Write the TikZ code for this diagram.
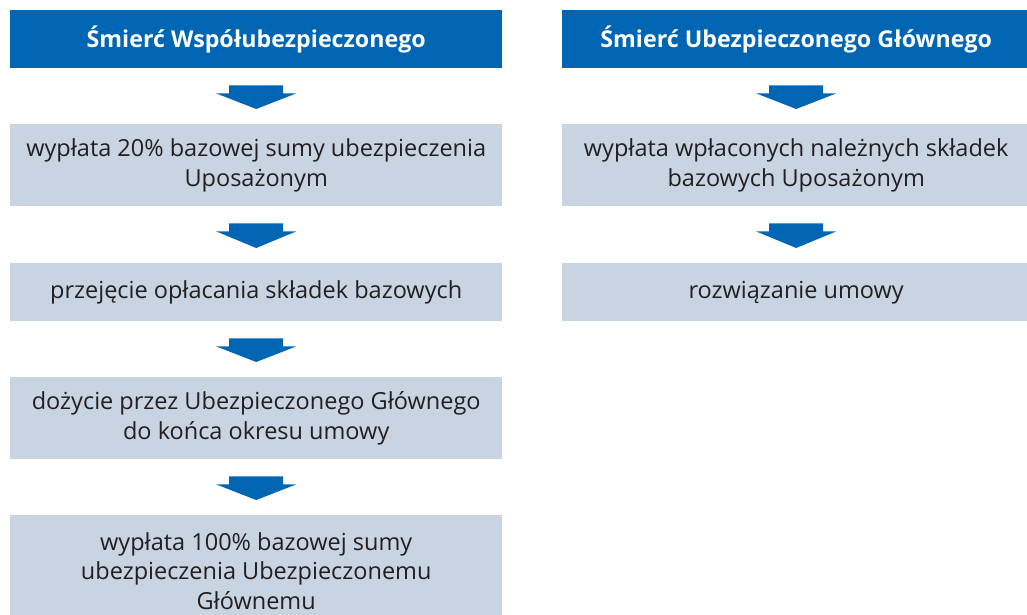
\documentclass[tikz,border=0pt]{standalone}
\usepackage{fontspec}
\setmainfont{Open Sans}
\usetikzlibrary{calc}
\definecolor{hblue}{RGB}{0,102,179}
\definecolor{bgrey}{RGB}{201,212,227}
\definecolor{tdark}{RGB}{35,31,32}
\newcommand\bodytxt{\fontsize{23.5}{29.5}\selectfont}
\newcommand\headtxt{\bfseries\fontsize{23.2}{29}\selectfont}
\newcommand\flowarrow[2]{\fill[hblue] ($(#1.south)+(-27,17)$) -- ($(#1.south)+(27,17)$) -- ($(#1.south)+(27,25)$) -- ($(#1.south)+(40,25)$) -- ($(#2.north)+(0,-15)$) -- ($(#1.south)+(-40,25)$) -- ($(#1.south)+(-27,25)$) -- cycle;}
\tikzset{
  headbox/.style={fill=hblue, text=white, font=\headtxt, minimum height=58pt, anchor=north west, inner sep=0pt},
  stepbox/.style={fill=bgrey, text=tdark, font=\bodytxt, anchor=north west, align=center, inner sep=0pt},
}
\begin{document}
\begin{tikzpicture}[x=1pt,y=-1pt]
\useasboundingbox (0,0) rectangle (1027,614);
\clip (0,0) rectangle (1027,614);
% left column
\node[headbox, minimum width=492pt] (L0) at (10,10) {Śmierć Współubezpieczonego};
\node[stepbox, minimum width=492pt, minimum height=82pt] (L1) at (10,124) {wypłata 20\% bazowej sumy ubezpieczenia\\Uposażonym};
\node[stepbox, minimum width=492pt, minimum height=58pt] (L2) at (10,263) {przejęcie opłacania składek bazowych};
\node[stepbox, minimum width=492pt, minimum height=82pt] (L3) at (10,377) {dożycie przez Ubezpieczonego Głównego\\do końca okresu umowy};
\node[stepbox, minimum width=492pt, minimum height=111pt] (L4) at (10,515) {wypłata 100\% bazowej sumy\\ubezpieczenia Ubezpieczonemu\\Głównemu};
% right column
\node[headbox, minimum width=468pt] (R0) at (562,10) {Śmierć Ubezpieczonego Głównego};
\node[stepbox, minimum width=468pt, minimum height=82pt] (R1) at (562,124) {wypłata wpłaconych należnych składek\\bazowych Uposażonym};
\node[stepbox, minimum width=468pt, minimum height=58pt] (R2) at (562,263) {rozwiązanie umowy};
% arrows
\flowarrow{L0}{L1}
\flowarrow{L1}{L2}
\flowarrow{L2}{L3}
\flowarrow{L3}{L4}
\flowarrow{R0}{R1}
\flowarrow{R1}{R2}
\end{tikzpicture}
\end{document}
